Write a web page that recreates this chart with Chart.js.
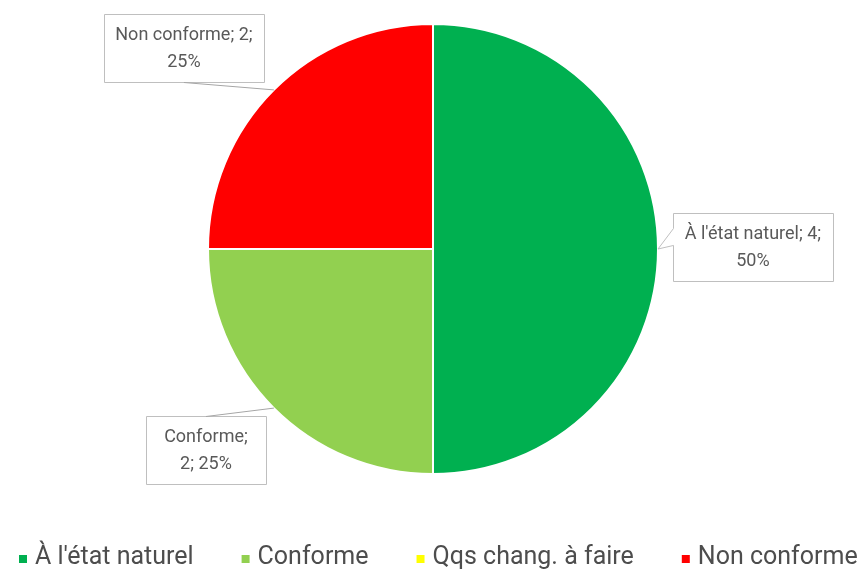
<!DOCTYPE html>
<html>
<head>
<meta charset="utf-8">
<script src="https://cdn.jsdelivr.net/npm/chart.js@4/dist/chart.umd.min.js"></script>
<style>
  html, body { margin: 0; padding: 0; background: #fff; }
  #wrap { width: 863px; height: 575px; position: relative; }
</style>
</head>
<body>
<div id="wrap"><canvas id="pieChart"></canvas></div>
<script>
// data
const categories = ["À l'état naturel", 'Conforme', 'Qqs chang. à faire', 'Non conforme'];
const counts = [4, 2, 0, 2];
const sliceColors = ['#00B050', '#92D050', '#FFFF00', '#FF0000'];

// label boxes: offset from the pie centre in radius units, box width, wrap width
const labelOffsets = [[1.422, -0.009], [-1.009, 0.893], null, [-1.107, -0.893]];
const labelBoxWidths = [160, 120, 0, 160];
const labelWrapWidths = [150, 95, 0, 150];

const TEXT_GREY = '#595959';
const LEGEND_GREY = '#4d4d4d';
const BOX_GREY = '#bfbfbf';
const LABEL_FONT = '18px Roboto';
const LEGEND_FONT = '25px Roboto';

const total = counts.reduce((a, b) => a + b, 0);

function wrapWords(ctx, text, maxW) {
  const words = text.split(' ');
  const lines = [];
  let cur = '';
  words.forEach(w => {
    const test = cur ? cur + ' ' + w : w;
    if (cur && ctx.measureText(test).width > maxW) {
      lines.push(cur);
      cur = w;
    } else {
      cur = test;
    }
  });
  if (cur) lines.push(cur);
  return lines;
}

const calloutPlugin = {
  id: 'callouts',
  afterDatasetsDraw(chart) {
    const ctx = chart.ctx;
    const meta = chart.getDatasetMeta(0);
    ctx.save();
    ctx.font = LABEL_FONT;
    meta.data.forEach((arc, i) => {
      if (!counts[i] || !labelOffsets[i]) return;
      const r = arc.outerRadius;
      const mid = (arc.startAngle + arc.endAngle) / 2;
      const ex = arc.x + Math.cos(mid) * r;
      const ey = arc.y + Math.sin(mid) * r;
      const pct = Math.round(counts[i] / total * 100);
      const text = categories[i] + '; ' + counts[i] + '; ' + pct + '%';
      const lines = wrapWords(ctx, text, labelWrapWidths[i]);
      const lineH = 27;
      const w = labelBoxWidths[i];
      const h = lines.length * lineH + 14;
      const cx = arc.x + labelOffsets[i][0] * r;
      const cy = arc.y + labelOffsets[i][1] * r;
      const L = Math.round(cx - w / 2) + 0.5, T = Math.round(cy - h / 2) + 0.5;
      const R = L + w, B = T + h;

      ctx.strokeStyle = BOX_GREY;
      ctx.lineWidth = 1;
      ctx.fillStyle = '#fff';
      ctx.beginPath();
      if (ex < L) {
        // callout with a pointer on its left side
        ctx.moveTo(L, T);
        ctx.lineTo(R, T);
        ctx.lineTo(R, B);
        ctx.lineTo(L, B);
        ctx.lineTo(L, T + h * 0.47);
        ctx.lineTo(ex, ey);
        ctx.lineTo(L, T + h * 0.22);
        ctx.closePath();
        ctx.fill();
        ctx.stroke();
      } else {
        ctx.rect(L, T, w, h);
        ctx.fill();
        ctx.stroke();
        ctx.strokeStyle = '#a6a6a6';
        ctx.beginPath();
        const sy = ey > B ? B : T;
        ctx.moveTo(cx, sy);
        ctx.lineTo(ex, ey);
        ctx.stroke();
      }

      ctx.fillStyle = TEXT_GREY;
      ctx.textAlign = 'center';
      ctx.textBaseline = 'middle';
      lines.forEach((ln, k) => {
        ctx.fillText(ln, cx, T + 7 + lineH * (k + 0.5));
      });
    });
    ctx.restore();
  }
};

const legendPlugin = {
  id: 'bottomLegend',
  afterDraw(chart) {
    const ctx = chart.ctx;
    ctx.save();
    ctx.font = LEGEND_FONT;
    ctx.textBaseline = 'middle';
    ctx.textAlign = 'left';
    const box = 8, gapText = 8, gapItem = 48;
    let x = 19;
    const y = 558;
    categories.forEach((name, i) => {
      ctx.fillStyle = sliceColors[i];
      ctx.fillRect(x, y - box / 2 + 1, box, box);
      ctx.fillStyle = LEGEND_GREY;
      ctx.fillText(name, x + box + gapText, y);
      x += box + gapText + ctx.measureText(name).width + gapItem;
    });
    ctx.restore();
  }
};

new Chart(document.getElementById('pieChart'), {
  type: 'pie',
  data: {
    labels: categories,
    datasets: [{
      data: counts,
      backgroundColor: sliceColors,
      borderColor: '#ffffff',
      borderWidth: 2
    }]
  },
  options: {
    responsive: true,
    maintainAspectRatio: false,
    animation: false,
    layout: { padding: { top: 23, bottom: 100, left: 3, right: 0 } },
    plugins: {
      legend: { display: false },
      tooltip: { enabled: false }
    }
  },
  plugins: [calloutPlugin, legendPlugin]
});
</script>
</body>
</html>
